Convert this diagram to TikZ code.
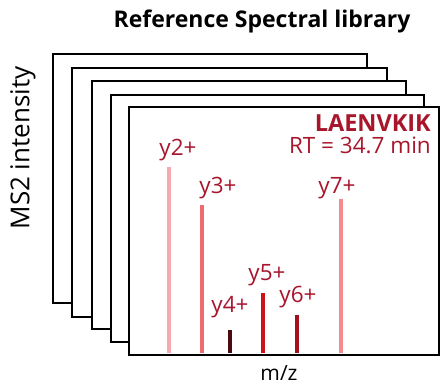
\documentclass[tikz,border=0pt]{standalone}
\usepackage{fontspec}
\setmainfont{Open Sans}
\definecolor{lab}{HTML}{A8162C}
\definecolor{cA}{HTML}{F6A9AE}
\definecolor{cB}{HTML}{EE6B6E}
\definecolor{cC}{HTML}{4A0A10}
\definecolor{cD}{HTML}{CC1118}
\definecolor{cE}{HTML}{A3101C}
\definecolor{cF}{HTML}{F28A8E}
\begin{document}
\begin{tikzpicture}[x=1pt,y=-1pt,
  frame/.style={draw=black,fill=white,line width=2.6pt},
  peak/.style={line width=3.2pt},
  lbl/.style={text=lab,font=\fontsize{22.5}{22.5}\selectfont,inner sep=0pt}]
\useasboundingbox (0,0) rectangle (441,386);
\node[font=\bfseries\fontsize{23}{23}\selectfont,inner sep=0pt] (title) at (262,21) {Reference Spectral library};
\node[rotate=90,font=\fontsize{26}{26}\selectfont,inner sep=0pt] (ylab) at (23,148) {MS2 intensity};
\draw[frame] (53,54) rectangle (367,303);
\draw[frame] (72,68) rectangle (387,317);
\draw[frame] (92,81) rectangle (406,329);
\draw[frame] (111,95) rectangle (424,342);
\draw[frame] (129,107) rectangle (439,355);
\coordinate (b2) at (169,353); \coordinate (t2) at (169,167);
\coordinate (b3) at (202,353); \coordinate (t3) at (202,205);
\coordinate (b4) at (230,353); \coordinate (t4) at (230,330);
\coordinate (b5) at (263,353); \coordinate (t5) at (263,293);
\coordinate (b6) at (297,353); \coordinate (t6) at (297,315);
\coordinate (b7) at (341,353); \coordinate (t7) at (341,199);
\draw[peak,cA] (b2) -- (t2);
\draw[peak,cB] (b3) -- (t3);
\draw[peak,cC] (b4) -- (t4);
\draw[peak,cD] (b5) -- (t5);
\draw[peak,cE] (b6) -- (t6);
\draw[peak,cF] (b7) -- (t7);
\draw[line width=2.6pt] (129,355) -- (439,355);
\node[lbl] (l2) at (178,150) {y2+};
\node[lbl] (l3) at (218,188) {y3+};
\node[lbl] (l4) at (230,307) {y4+};
\node[lbl] (l5) at (267,275) {y5+};
\node[lbl] (l6) at (298,297) {y6+};
\node[lbl] (l7) at (337,188) {y7+};
\node[lbl,anchor=east,font=\bfseries\fontsize{23.5}{23.5}\selectfont] (pep) at (431,123) {LAENVKIK};
\node[lbl,anchor=east] (rt) at (431,145) {RT = 34.7 min};
\node[font=\fontsize{21}{21}\selectfont,inner sep=0pt] (mz) at (279,373) {m/z};
\end{tikzpicture}
\end{document}
